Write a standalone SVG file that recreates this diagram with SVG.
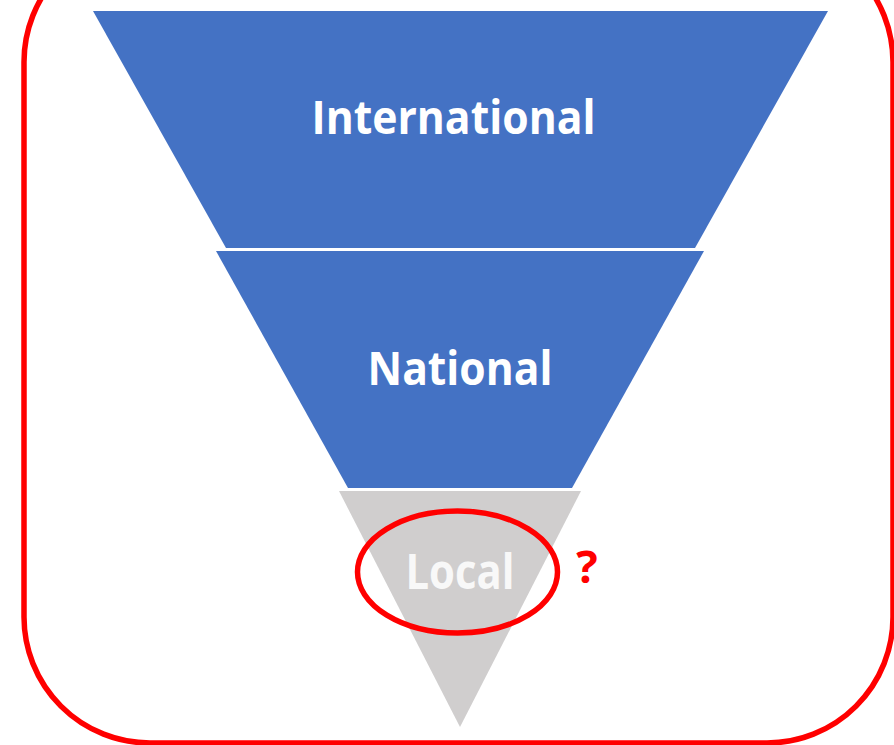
<svg xmlns="http://www.w3.org/2000/svg" width="894" height="745" viewBox="0 0 894 745">
  <style>
    .seg { fill: #4472C4; }
    .grey { fill: #D0CECE; }
    .lbl { font-family: "Open Sans", "Noto Sans", "Liberation Sans", sans-serif; font-weight: bold; fill: #FFFFFF; text-anchor: middle; }
    .red { fill: none; stroke: #FF0000; stroke-width: 5.5; }
  </style>
  <rect x="0" y="0" width="894" height="745" fill="#FFFFFF"/>
  <rect id="frame" class="red" x="24" y="-64" width="869" height="807" rx="126" ry="126"/>
  <g id="international">
    <polygon class="seg" points="93,11 828,11 695,248 226,248"/>
    <text class="lbl" x="453.5" y="134" font-size="47" textLength="284" lengthAdjust="spacingAndGlyphs">International</text>
  </g>
  <g id="national">
    <polygon class="seg" points="216,251 704,251 572,488 348,488"/>
    <text class="lbl" x="460" y="385" font-size="46" textLength="185" lengthAdjust="spacingAndGlyphs">National</text>
  </g>
  <g id="local">
    <polygon class="grey" points="339,491 581,491 460,727"/>
    <text class="lbl" x="460" y="589" font-size="49" textLength="109" lengthAdjust="spacingAndGlyphs" style="fill:#F8F8F8">Local</text>
  </g>
  <g id="highlight">
    <ellipse class="red" cx="457.5" cy="572" rx="100" ry="61"/>
    <text x="587" y="583" font-family="'Open Sans', 'Liberation Sans', sans-serif" font-weight="bold" font-size="45" fill="#FF0000" text-anchor="middle">?</text>
  </g>
</svg>
